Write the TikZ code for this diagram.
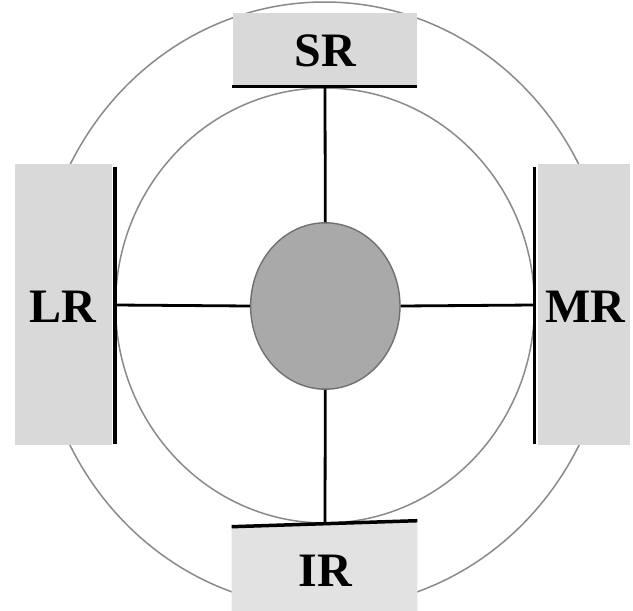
\documentclass[tikz,border=0pt]{standalone}
\usepackage{fontspec}
\setmainfont{Liberation Serif}
\usetikzlibrary{shapes.geometric}

\definecolor{ringgray}{HTML}{8A8A8A}
\definecolor{boxgray}{HTML}{D9D9D9}
\definecolor{boxgraylight}{HTML}{E2E2E2}
\definecolor{corefill}{HTML}{A9A9A9}
\definecolor{coreedge}{HTML}{707070}

\tikzset{
  ring/.style={draw=ringgray, line width=1.5pt},
  muscle/.style={fill=boxgray},
  insertion/.style={draw=black, line width=3.5pt},
  tendon/.style={draw=black, line width=2.8pt},
  label/.style={font=\fontsize{48}{48}\selectfont\bfseries, inner sep=0pt, anchor=base},
  core/.style={ellipse, draw=coreedge, line width=1.4pt, fill=corefill,
               minimum width=149.4pt, minimum height=166.4pt, inner sep=0pt}
}

\begin{document}
\begin{tikzpicture}[x=1pt, y=-1pt]
  \useasboundingbox (0,0) rectangle (633,611);
  \fill[white] (0,0) rectangle (633,611);

  % orbit outlines
  \draw[ring] (324.5,305) ellipse [x radius=287, y radius=303];
  \draw[ring] (325,305.5) ellipse [x radius=209.5, y radius=217.5];

  % muscle blocks
  \fill[muscle] (233,13) rectangle (417,85);
  \fill[muscle] (15,164) rectangle (112,445);
  \fill[muscle] (537.5,164) rectangle (630,445);
  \fill[boxgraylight] (231.7,527) -- (417.3,521) -- (417.3,611) -- (231.7,611) -- cycle;

  % insertion lines
  \coordinate (srL) at (232,86.5);   \coordinate (srR) at (417,86.5);
  \coordinate (lrT) at (115,166.5);  \coordinate (lrB) at (115,443.5);
  \coordinate (mrT) at (534.5,166.5);\coordinate (mrB) at (534.5,443.5);
  \coordinate (irL) at (231.7,526.7);\coordinate (irR) at (417.3,520.7);
  \draw[insertion] (srL) -- (srR);
  \draw[insertion] (lrT) -- (lrB);
  \draw[insertion] (mrT) -- (mrB);
  \draw[insertion] (irL) -- (irR);

  \coordinate (srbar) at (325,86.5);
  \coordinate (lrbar) at (115,305);
  \coordinate (mrbar) at (534.5,305);
  \coordinate (irbar) at (325,523.6);

  % globe
  \node[core] (eye) at (325.3,306) {};

  % tendons
  \draw[tendon] (srbar) -- (eye.north);
  \draw[tendon] (eye.south) -- (irbar);
  \draw[tendon] (lrbar) -- (eye.west);
  \draw[tendon] (eye.east) -- (mrbar);

  % labels
  \node[label] (sr) at (325.3,66) {SR};
  \node[label] (lr) at (63.3,322.7) {LR};
  \node[label] (mr) at (585,322.7) {MR};
  \node[label] (ir) at (325.5,586.7) {IR};
\end{tikzpicture}
\end{document}
